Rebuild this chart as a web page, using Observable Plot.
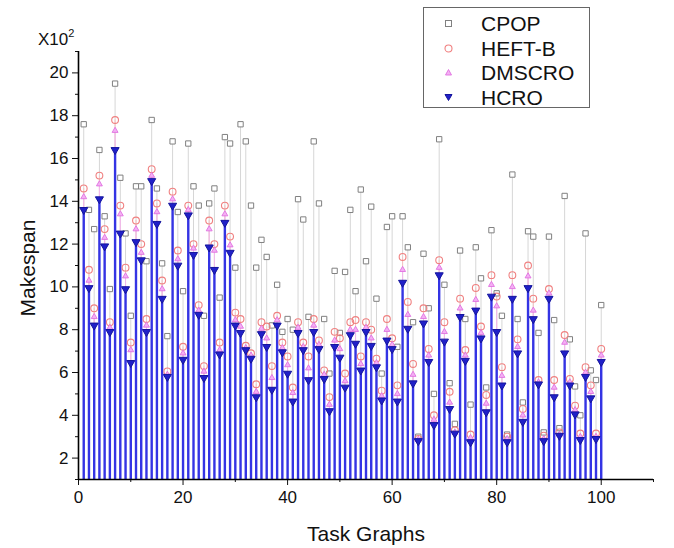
<!DOCTYPE html>
<html><head><meta charset="utf-8">
<script src="https://cdn.jsdelivr.net/npm/d3@7"></script>
<script src="https://cdn.jsdelivr.net/npm/@observablehq/plot@0.6"></script>
<style>
body{margin:0;background:#fff;font-family:"Liberation Sans",Arial,sans-serif;}
#wrap{position:relative;width:674px;height:548px;overflow:hidden;}
.lbl{position:absolute;color:#111;white-space:nowrap;}
#legend{position:absolute;left:423px;top:7px;width:165px;height:99px;border:1px solid #666;background:#fff;}
#legend .row{position:absolute;left:0;width:165px;height:24px;}
#legend .row span{position:absolute;left:57px;top:0;font-size:21px;line-height:24px;color:#111;white-space:nowrap;}
#legend svg{position:absolute;left:18px;top:4px;}
</style></head><body><div id="wrap"></div>
<script>
const seriesNames = ["CPOP", "HEFT-B", "DMSCRO", "HCRO"];
const taskIds = d3.range(1, 101);
const cpop = [17.6,13.6,12.7,16.4,13.3,9.9,19.5,15.1,12.5,8.65,14.7,14.7,11.2,17.8,14.6,11.1,7.7,16.8,13.5,9.8,
16.7,14.7,13.8,8.65,13.9,14.6,9.5,17.0,16.7,10.9,17.6,16.8,13.8,10.9,12.2,11.4,8.2,10.1,7.9,8.5,
8.0,14.1,13.15,8.6,16.8,13.9,8.5,5.95,10.75,7.85,10.7,13.6,9.8,14.55,11.2,13.75,9.45,5.95,12.8,13.3,
7.2,13.3,11.85,8.35,3.0,11.55,9.0,5.0,16.9,10.1,5.5,3.6,11.7,8.5,4.5,11.85,10.4,5.3,12.65,9.7,
8.65,3.1,15.25,8.5,4.6,12.6,12.35,7.85,3.2,12.35,8.45,3.4,14.25,7.55,5.35,4.0,12.5,6.1,5.65,9.15];
const heftB = [14.6,10.8,9.0,15.2,12.7,8.35,17.8,13.8,10.9,7.4,13.1,12.0,8.5,15.5,13.9,10.3,6.05,14.45,11.7,7.2,
13.8,12.0,9.15,6.3,13.1,12.0,7.4,13.8,12.35,8.8,8.5,7.25,6.9,5.45,8.35,8.15,6.3,8.65,7.4,6.75,
5.3,8.35,7.4,6.75,8.5,7.5,6.1,4.85,7.9,7.6,5.95,8.35,8.45,6.75,8.35,8.0,6.65,5.15,8.5,7.6,
5.4,11.4,9.3,6.4,2.9,9.0,7.1,4.0,11.25,8.35,5.1,3.3,9.45,7.05,3.1,9.95,8.15,4.95,10.55,9.55,
6.25,3.0,10.55,7.55,4.3,11.0,9.45,5.65,3.05,9.9,5.65,3.2,7.75,5.7,4.45,3.15,6.25,5.4,3.15,7.1];
const dmscro = [14.2,10.3,8.6,14.8,12.3,8.1,17.3,13.4,10.5,7.05,12.7,11.6,8.2,15.2,13.5,9.9,5.9,14.1,11.3,6.9,
13.6,11.8,8.9,6.05,12.7,11.7,7.05,13.4,11.95,8.45,8.15,7.15,6.8,5.1,8.05,7.6,5.75,8.45,7.15,6.35,
5.05,8.1,7.2,6.2,8.2,7.3,5.9,4.5,7.5,7.1,5.6,8.0,8.0,6.4,8.1,7.6,6.45,4.9,8.0,7.3,
5.0,10.8,8.7,5.9,2.87,8.6,6.8,3.8,10.9,7.9,4.6,3.2,9.0,6.8,2.95,9.4,7.85,4.55,10.1,9.1,
5.85,2.9,10.0,7.2,4.0,10.5,8.9,5.55,2.9,9.7,5.3,3.1,7.4,5.55,4.25,3.0,6.0,5.1,3.0,6.8];
const hcro = [13.6,9.95,8.2,14.1,11.9,7.9,16.4,12.5,9.9,6.45,12.1,11.25,7.9,14.95,12.95,9.45,5.8,13.8,11.0,6.6,
13.35,11.5,8.7,5.75,11.85,10.8,6.85,13.0,11.6,8.2,7.85,7.05,6.65,4.85,7.8,7.2,5.2,8.2,6.95,5.95,
4.65,7.85,7.05,5.65,7.9,7.1,5.7,4.2,7.2,6.7,5.3,7.75,7.35,6.1,7.9,7.25,6.25,4.7,7.5,7.1,
4.65,10.2,8.05,5.5,2.8,8.3,6.5,3.55,10.55,7.45,4.3,3.15,8.6,6.55,2.75,8.9,7.6,4.15,9.55,7.9,
5.4,2.75,9.45,6.9,3.7,9.95,8.5,5.45,2.8,9.45,4.85,3.05,6.9,5.4,4.05,2.85,5.8,4.8,2.9,6.5];
const yMajor = [2,4,6,8,10,12,14,16,18,20];
const yMinor = [1,3,5,7,9,11,13,15,17,19,21];
const xMajor = [0,20,40,60,80,100];
const xMinor = [10,30,50,70,90,110];

const rows = (vals) => taskIds.map((t, k) => ({t, v: vals[k]}));
const rC = rows(cpop), rH = rows(heftB), rD = rows(dmscro), rB = rows(hcro);

const chart = Plot.plot({
  width: 674, height: 548,
  marginLeft: 78, marginRight: 21, marginTop: 51, marginBottom: 69,
  style: {fontFamily: "'Liberation Sans', Arial, sans-serif", fontSize: "17px", color: "#111", background: "#fff"},
  x: {domain: [0, 110]},
  y: {domain: [1, 21]},
  marks: [
    Plot.ruleX(rC, {x: "t", y1: 1, y2: "v", stroke: "#d6d6d6", strokeWidth: 1}),
    Plot.ruleX(rH, {x: "t", y1: 1, y2: "v", stroke: "#f6c4c4", strokeWidth: 1}),
    Plot.ruleX(rD, {x: "t", y1: 1, y2: "v", stroke: "#f0b8f0", strokeWidth: 1}),
    Plot.ruleX(rB, {x: "t", y1: 1, y2: "v", stroke: "#3434e4", strokeWidth: 2.4}),
    Plot.dot(rC, {x: "t", y: "v", symbol: "square", r: 3, stroke: "#808080", fill: "#fff", strokeWidth: 1}),
    Plot.dot(rH, {x: "t", y: "v", symbol: "circle", r: 3.4, stroke: "#f08080", fill: "none", strokeWidth: 1.1}),
    Plot.dot(rD, {x: "t", y: "v", symbol: "triangle", r: 2.2, stroke: "#e070e0", fill: "#f4b0f4", strokeWidth: 0.9}),
    Plot.dot(rB, {x: "t", y: "v", symbol: "triangle", rotate: 180, r: 3, stroke: "#14149c", fill: "#2020c8", strokeWidth: 1}),
    Plot.axisY({ticks: yMajor, tickSize: 6, tickPadding: 4, label: null, fontSize: 17}),
    Plot.axisY({ticks: yMinor, tickSize: 3, tickFormat: () => "", label: null}),
    Plot.axisX({ticks: xMajor, tickSize: 6, tickPadding: 5, label: null, fontSize: 17}),
    Plot.axisX({ticks: xMinor, tickSize: 3, tickFormat: () => "", label: null}),
    Plot.ruleY([1], {stroke: "#000", strokeWidth: 1.6}),
    Plot.ruleX([0], {stroke: "#000", strokeWidth: 1.6})
  ]
});
const wrap = document.getElementById("wrap");
wrap.appendChild(chart);

function addLabel(html, css) {
  const d = document.createElement("div");
  d.className = "lbl";
  d.innerHTML = html;
  Object.assign(d.style, css);
  wrap.appendChild(d);
}
addLabel("X10<sup style='font-size:11px;vertical-align:8px'>2</sup>", {left: "38px", top: "27px", fontSize: "17px"});
addLabel("Task Graphs", {left: "366px", top: "522px", fontSize: "21px", transform: "translateX(-50%)"});
addLabel("Makespan", {left: "28px", top: "268px", fontSize: "21px", transform: "translate(-50%,-50%) rotate(-90deg)"});

const legend = document.createElement("div");
legend.id = "legend";
const syms = [
  `<rect x="3.5" y="4.5" width="6" height="6" fill="#fff" stroke="#808080"/>`,
  `<circle cx="6.5" cy="7.5" r="3.5" fill="none" stroke="#f08080" stroke-width="1.1"/>`,
  `<path d="M6.5,4.5 L9.5,10 L3.5,10 Z" fill="#f4b0f4" stroke="#e070e0" stroke-width="0.9"/>`,
  `<path d="M3,4.5 L10,4.5 L6.5,10.5 Z" fill="#2020c8" stroke="#14149c"/>`
];
seriesNames.forEach((name, k) => {
  const r = document.createElement("div");
  r.className = "row";
  r.style.top = (4 + k * 24.5) + "px";
  r.innerHTML = `<svg width="14" height="16">${syms[k]}</svg><span>${name}</span>`;
  legend.appendChild(r);
});
wrap.appendChild(legend);
</script>
</body></html>
